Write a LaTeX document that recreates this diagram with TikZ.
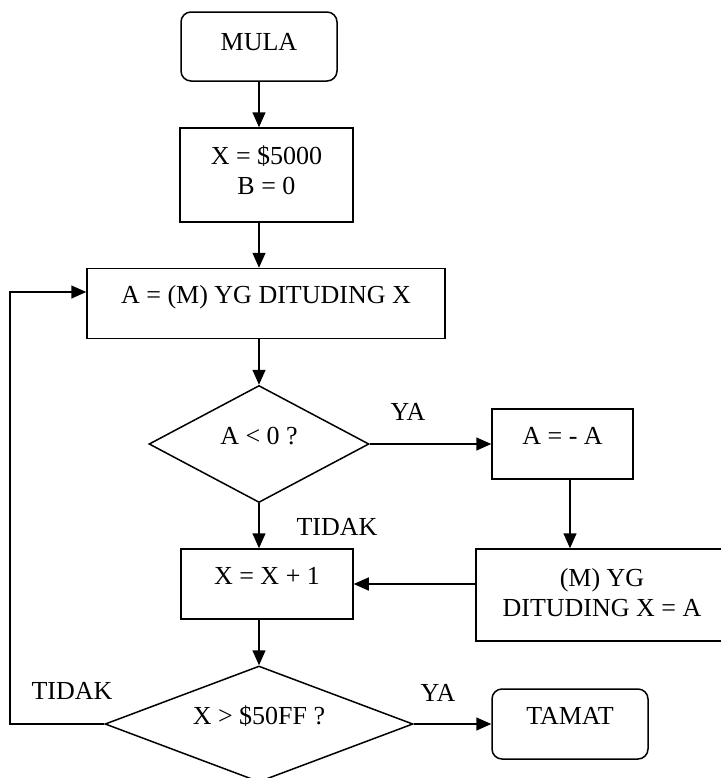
\documentclass[tikz,border=0pt]{standalone}
\usepackage{fontspec}
\setmainfont{Liberation Serif}
\usetikzlibrary{shapes.geometric,arrows.meta}

\tikzset{
 kotak/.style={draw,rectangle,inner sep=0pt},
 sebaris/.style={text height=8pt,text depth=8pt},
 ujung/.style={kotak,sebaris,rounded corners=5pt},
 keputusan/.style={draw,diamond,inner sep=0pt,text height=8pt,text depth=8pt},
}

\begin{document}
\begin{tikzpicture}[x=0.5pt,y=-0.5pt,line width=0.75pt,
 font=\fontsize{13}{15}\selectfont,
 >={Triangle[length=7.5pt,width=6.5pt]}]
 \useasboundingbox (0,0) rectangle (720,778); % ukuran gambar
 \coordinate (sumbu) at (259,0); % garis tengah
 \coordinate (kiri) at (10,0); % garis balik

 \node[ujung,text depth=4pt,minimum width=78pt,minimum height=34.5pt] (mula) at (259,46.5) {MULA};
 \node[kotak,align=center,text depth=5pt,minimum width=86.5pt,minimum height=47pt] (awal) at (266.5,175) {X = \$5000\\B = 0};
 \node[kotak,sebaris,minimum width=179pt,minimum height=35pt] (baca) at (266,303.5) {A = (M) YG DITUDING X};
 \node[keputusan,aspect=1.88,minimum width=110pt,minimum height=58.5pt] (negatif) at (259,444) {A < 0 ?};
 \node[kotak,sebaris,minimum width=70.5pt,minimum height=35pt] (tukar) at (562.5,444) {A = - A};
 \node[kotak,align=center,text depth=3pt,minimum width=126pt,minimum height=46pt] (simpan) at (602,595) {(M) YG\\DITUDING X = A};
 \node[kotak,sebaris,minimum width=86pt,minimum height=35pt] (tambah) at (267,584) {X = X + 1};
 \node[keputusan,aspect=2.65,minimum width=154pt,minimum height=58pt] (habis) at (259,724) {X > \$50FF ?};
 \node[ujung,minimum width=78pt,minimum height=35pt] (tamat) at (570,724) {TAMAT};

 \node (ya1) at (408,412) {YA}; % label
 \node (tidak1) at (337,527) {TIDAK}; % label
 \node (tidak2) at (72,691) {TIDAK}; % label
 \node (ya2) at (438,693) {YA}; % label

 \draw[->] (mula.south) -- (mula.south |- awal.north);
 \draw[->] (sumbu |- awal.south) -- (sumbu |- baca.north);
 \draw[->] (sumbu |- baca.south) -- (negatif.north);
 \draw[->] (negatif.east) -- (tukar.west); % YA
 \draw[->] ([xshift=3.75pt]tukar.south) -- ([xshift=3.75pt]tukar.south |- simpan.north);
 \draw[->] (negatif.south) -- (negatif.south |- tambah.north); % TIDAK
 \draw[->] (simpan.west |- tambah.east) -- (tambah.east);
 \draw[->] (habis.north |- tambah.south) -- (habis.north);
 \draw[->] (habis.east) -- (tamat.west); % YA
 \draw[->] (habis.west) -- (kiri |- habis.west) |- ([yshift=5.75pt]baca.west); % TIDAK
\end{tikzpicture}
\end{document}
